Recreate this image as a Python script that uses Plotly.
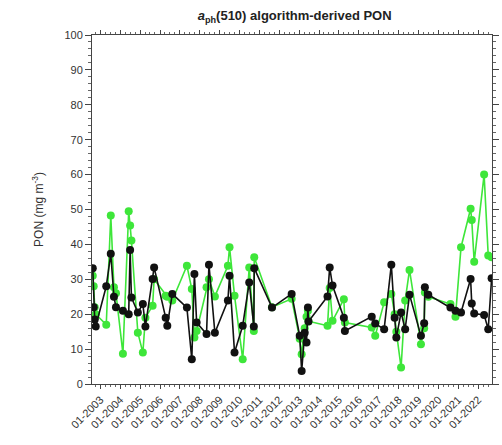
import plotly.graph_objects as go

# Sampling dates shared by both PON estimates
dates = [
    "2002-08-15", "2002-09-01", "2002-09-20", "2002-10-08",
    "2003-04-20", "2003-07-12", "2003-09-08", "2003-10-15",
    "2004-02-20", "2004-06-05", "2004-07-01", "2004-07-25",
    "2004-11-20", "2005-02-20", "2005-04-08",
    "2005-08-18", "2005-09-15", "2006-04-15", "2006-05-15", "2006-08-15",
    "2007-05-10", "2007-08-08", "2007-09-25", "2007-11-05",
    "2008-05-05", "2008-06-18", "2008-10-05",
    "2009-06-01", "2009-07-01", "2009-10-01",
    "2010-02-28", "2010-06-28", "2010-09-20", "2010-09-28",
    "2011-08-20", "2012-08-15",
    "2013-01-10", "2013-02-15", "2013-04-12", "2013-05-15", "2013-06-10", "2013-06-20",
    "2014-06-05", "2014-07-15", "2014-09-05",
    "2015-04-01", "2015-04-20",
    "2016-08-25", "2016-10-28",
    "2017-04-10", "2017-08-20", "2017-10-20", "2017-11-20",
    "2018-02-15", "2018-05-01", "2018-07-20",
    "2019-02-15", "2019-04-15", "2019-04-28", "2019-06-30",
    "2020-08-10", "2020-11-10",
    "2021-02-20", "2021-08-15", "2021-09-05", "2021-10-20",
    "2022-04-20", "2022-07-05", "2022-09-05",
]

# PON derived from the aph(510) algorithm (black)
pon_black = [
    33.2, 22.0, 18.5, 16.5,
    28.0, 37.3, 25.0, 22.0,
    21.0, 20.0, 38.4, 24.8,
    20.5, 22.9, 16.5,
    30.1, 33.4, 19.0, 16.7, 25.8,
    21.9, 7.1, 31.5, 17.6,
    14.3, 34.2, 14.7,
    23.9, 31.0, 9.0,
    16.7, 29.1, 16.5, 33.2,
    21.9, 25.8,
    13.8, 3.7, 14.7, 11.9, 21.9, 17.9,
    25.1, 33.4, 28.2,
    19.0, 15.2,
    19.3, 17.3,
    15.7, 34.2, 19.0, 13.3,
    20.5, 15.7, 25.6,
    13.8, 17.4, 27.7, 25.6,
    21.9, 21.0,
    20.5, 30.1, 23.1, 20.2,
    19.8, 15.7, 30.3,
]

# Companion PON estimate (green)
pon_green = [
    31.0, 28.0, 22.0, 20.0,
    17.0, 48.3, 27.7, 26.0,
    8.7, 49.5, 45.4, 41.1,
    14.7, 9.0, 19.0,
    22.4, 30.0, 25.3, 25.0, 23.9,
    33.9, 27.2, 13.3, 15.2,
    27.7, 30.0, 25.1,
    33.9, 39.2, 25.3,
    7.1, 33.4, 15.2, 36.3,
    22.0, 24.4,
    13.0, 8.5, 16.0, 19.3, 21.0, 18.0,
    16.7, 27.5, 18.1,
    24.3, 17.6,
    16.2, 13.8,
    23.4, 25.8, 20.0, 15.0,
    4.7, 23.9, 32.7,
    11.4, 16.0, 26.2, 25.0,
    22.9, 19.3,
    39.2, 50.2, 47.0, 35.0,
    60.0, 36.8, 36.3,
]

year_ticks = [f"{y}-01-01" for y in range(2003, 2023)]
year_labels = [f"01-{y}" for y in range(2003, 2023)]
y_ticks = list(range(0, 101, 10))

fig = go.Figure()
fig.add_trace(go.Scatter(
    x=dates, y=pon_green, mode="lines+markers",
    line=dict(color="#3ee63a", width=1.6),
    marker=dict(color="#3ee63a", size=8),
    showlegend=False,
))
fig.add_trace(go.Scatter(
    x=dates, y=pon_black, mode="lines+markers",
    line=dict(color="#111111", width=1.6),
    marker=dict(color="#111111", size=8),
    showlegend=False,
))

axis_common = dict(
    showline=True, linecolor="#444444", linewidth=1,
    mirror="ticks", ticks="outside", tickcolor="#444444",
    showgrid=False, zeroline=False,
    tickfont=dict(family="Liberation Sans, Arial, sans-serif", size=11, color="#333333"),
)

fig.update_layout(
    width=502, height=445,
    margin=dict(l=92, r=3, t=35, b=61),
    paper_bgcolor="white", plot_bgcolor="white",
    font=dict(family="Liberation Sans, Arial, sans-serif", color="#222222"),
    title=dict(
        text="<b><i>a</i><sub>ph</sub>(510) algorithm-derived PON</b>",
        x=0.587, xanchor="center", y=0.975, yanchor="top",
        font=dict(size=13, color="#222222"),
    ),
    xaxis=dict(
        **axis_common,
        ticklen=4,
        type="date",
        range=["2002-08-01", "2022-09-12"],
        tickvals=year_ticks, ticktext=year_labels, tickangle=-45,
        minor=dict(ticks="outside", ticklen=2, tickcolor="#666666", dtick="M3"),
    ),
    yaxis=dict(
        **axis_common,
        ticklen=6,
        range=[0, 100],
        tickvals=y_ticks,
        minor=dict(ticks="outside", ticklen=3, tickcolor="#666666", dtick=2),
        title=dict(text="PON (mg m<sup>-3</sup>)", standoff=18,
                   font=dict(size=12, color="#333333")),
    ),
)

fig.write_html("out.html")
